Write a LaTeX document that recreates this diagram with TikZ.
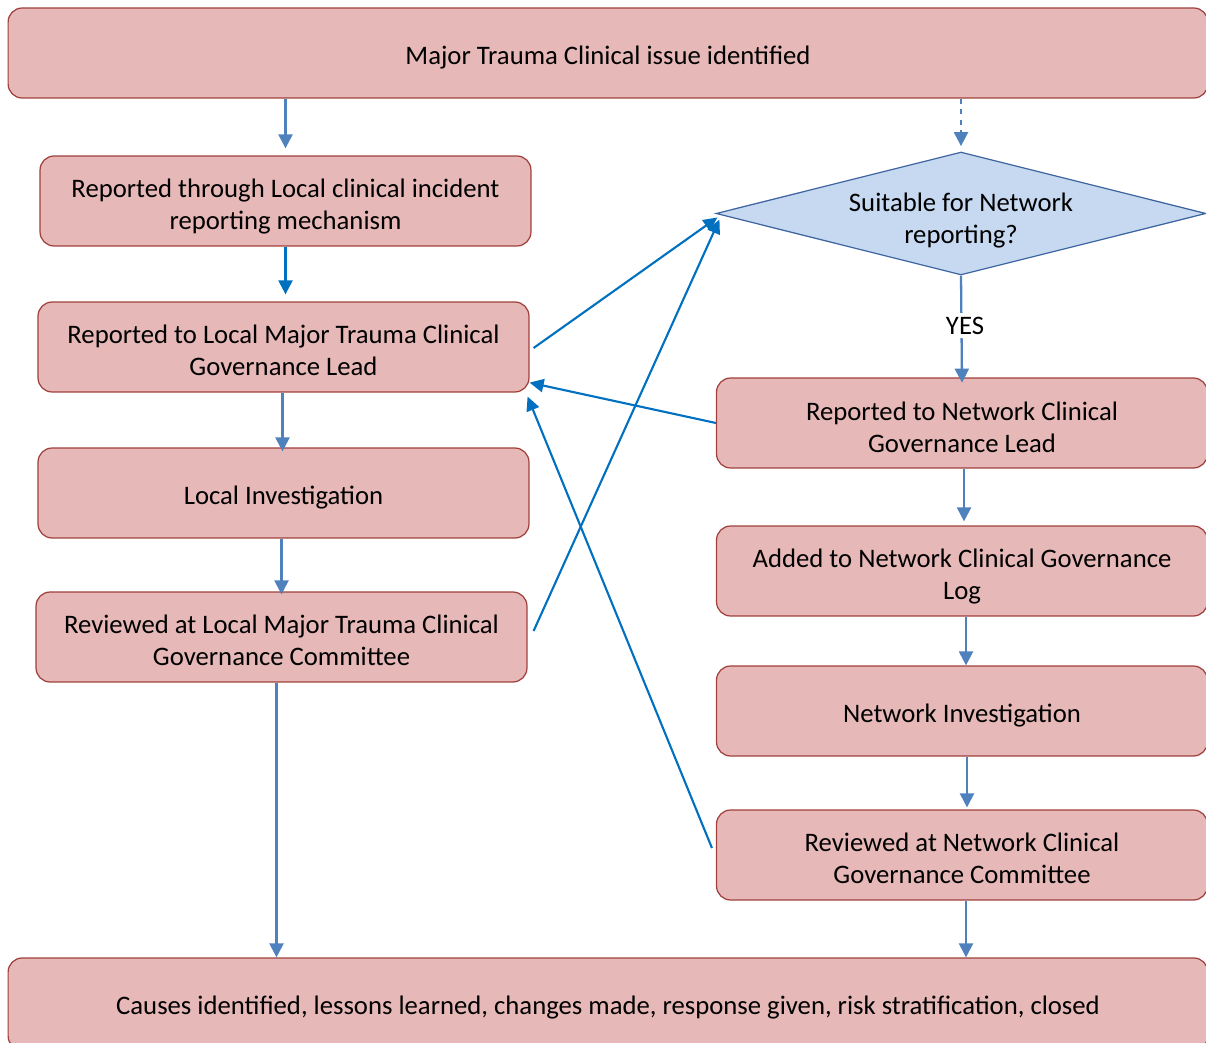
\documentclass[tikz,border=0pt]{standalone}
\usepackage{fontspec}
\setmainfont{Carlito}
\usetikzlibrary{arrows.meta,shapes.geometric,calc}
\definecolor{boxfill}{HTML}{E6B8B7}
\definecolor{boxborder}{HTML}{A0403C}
\definecolor{diafill}{HTML}{C6D9F1}
\definecolor{diaborder}{HTML}{3E65A0}
\definecolor{arrblue}{HTML}{4F81BD}
\definecolor{diagblue}{HTML}{0070C0}
\newcommand\lowtxt[2][3.3pt]{\raisebox{-#1}[\height][\depth]{\begin{tabular}{@{}c@{}}#2\end{tabular}}}
\tikzset{
  txt/.style={font=\fontsize{15.2}{18.2}\selectfont},
  box/.style={draw=boxborder, fill=boxfill, rounded corners=8pt, minimum height=1.8cm,
    minimum width=9.82cm, align=center, inner sep=0pt, line width=0.7pt, txt},
  widebox/.style={box, minimum width=24cm},
  decision/.style={diamond, draw=diaborder, fill=diafill, line width=0.7pt, aspect=4,
    minimum width=9.8cm, minimum height=2.46cm, inner sep=0pt, align=center, txt},
  arr/.style={draw=arrblue, line width=1.3pt, -{Triangle[length=8pt,width=8pt]}},
  diagarr/.style={draw=diagblue, line width=1.2pt, -{Triangle[length=8pt,width=7.5pt]}},
}
\begin{document}
\begin{tikzpicture}[x=0.02cm,y=-0.02cm]
\useasboundingbox (0,0) rectangle (1206,1043);
\clip (0,0) rectangle (1206,1043);
\node[widebox] (top) at (608,53) {\lowtxt[2.8pt]{Major Trauma Clinical issue identified}};
\node[box] (l1) at (285.5,201) {\lowtxt{Reported through Local clinical incident\\reporting mechanism}};
\node[box] (l2) at (283.5,347) {\lowtxt{Reported to Local Major Trauma Clinical\\Governance Lead}};
\node[box] (l3) at (283.5,493) {\lowtxt[2.8pt]{Local Investigation}};
\node[box] (l4) at (281.5,637) {\lowtxt{Reviewed at Local Major Trauma Clinical\\Governance Committee}};
\node[widebox, minimum height=1.84cm] (bot) at (608,1004) {\lowtxt[2.3pt]{Causes identified, lessons learned, changes made, response given, risk stratification, closed}};
\node[decision] (dia) at (961,213.5) {\lowtxt[4.4pt]{Suitable for Network\\reporting?}};
\node[box] (r1) at (962,423) {\lowtxt[3.8pt]{Reported to Network Clinical\\Governance Lead}};
\node[box] (r2) at (962,571) {\lowtxt{Added to Network Clinical Governance\\Log}};
\node[box] (r3) at (962,711) {\lowtxt[2.8pt]{Network Investigation}};
\node[box] (r4) at (962,855) {\lowtxt{Reviewed at Network Clinical\\Governance Committee}};

\draw[arr] (top.south -| l1.north) -- ([yshift=4]l1.north);
\draw[arr, dashed, shorten >=3pt] (top.south -| dia.north) -- (dia.north);
\draw[arr, draw=diagblue] (l1.south) -- ([yshift=4]l1.south |- l2.north);
\draw[arr] ($(l2.south)+(-1,0)$) -- ($(l2.south |- l3.north)+(-1,4)$);
\draw[arr] ($(l3.south)+(-2,0)$) -- ($(l3.south |- l4.north)+(-2,3)$);
\draw[arr] ($(l4.south)+(-5,0)$) -- ($(l4.south |- bot.north)+(-5,0)$);
\draw[arr] (dia.south) -- node[fill=white, inner sep=2pt, txt, xshift=2, yshift=2]{YES} ([yshift=-3]r1.north);
\draw[arr] ($(r1.south)+(2,0)$) -- ($(r1.south |- r2.north)+(2,-4)$);
\draw[arr] ($(r2.south)+(4,0)$) -- ($(r2.south |- r3.north)+(4,0)$);
\draw[arr] ($(r3.south)+(5,0)$) -- ($(r3.south |- r4.north)+(5,-2)$);
\draw[arr] ($(r4.south)+(4,0)$) -- ($(r4.south |- bot.north)+(4,0)$);

\draw[diagarr] ($(l2.east)+(4,1)$) -- ($(dia.west)+(2,4)$);
\draw[diagarr] ($(l4.east)+(6,-6)$) -- ($(dia.west)+(4,6)$);
\draw[diagarr] (r1.west) -- ($(l2.south east)+(0,-10)$);
\draw[diagarr] ($(r4.west)+(-4,-7)$) -- ($(l2.south east)+(-2,4)$);
\end{tikzpicture}
\end{document}
